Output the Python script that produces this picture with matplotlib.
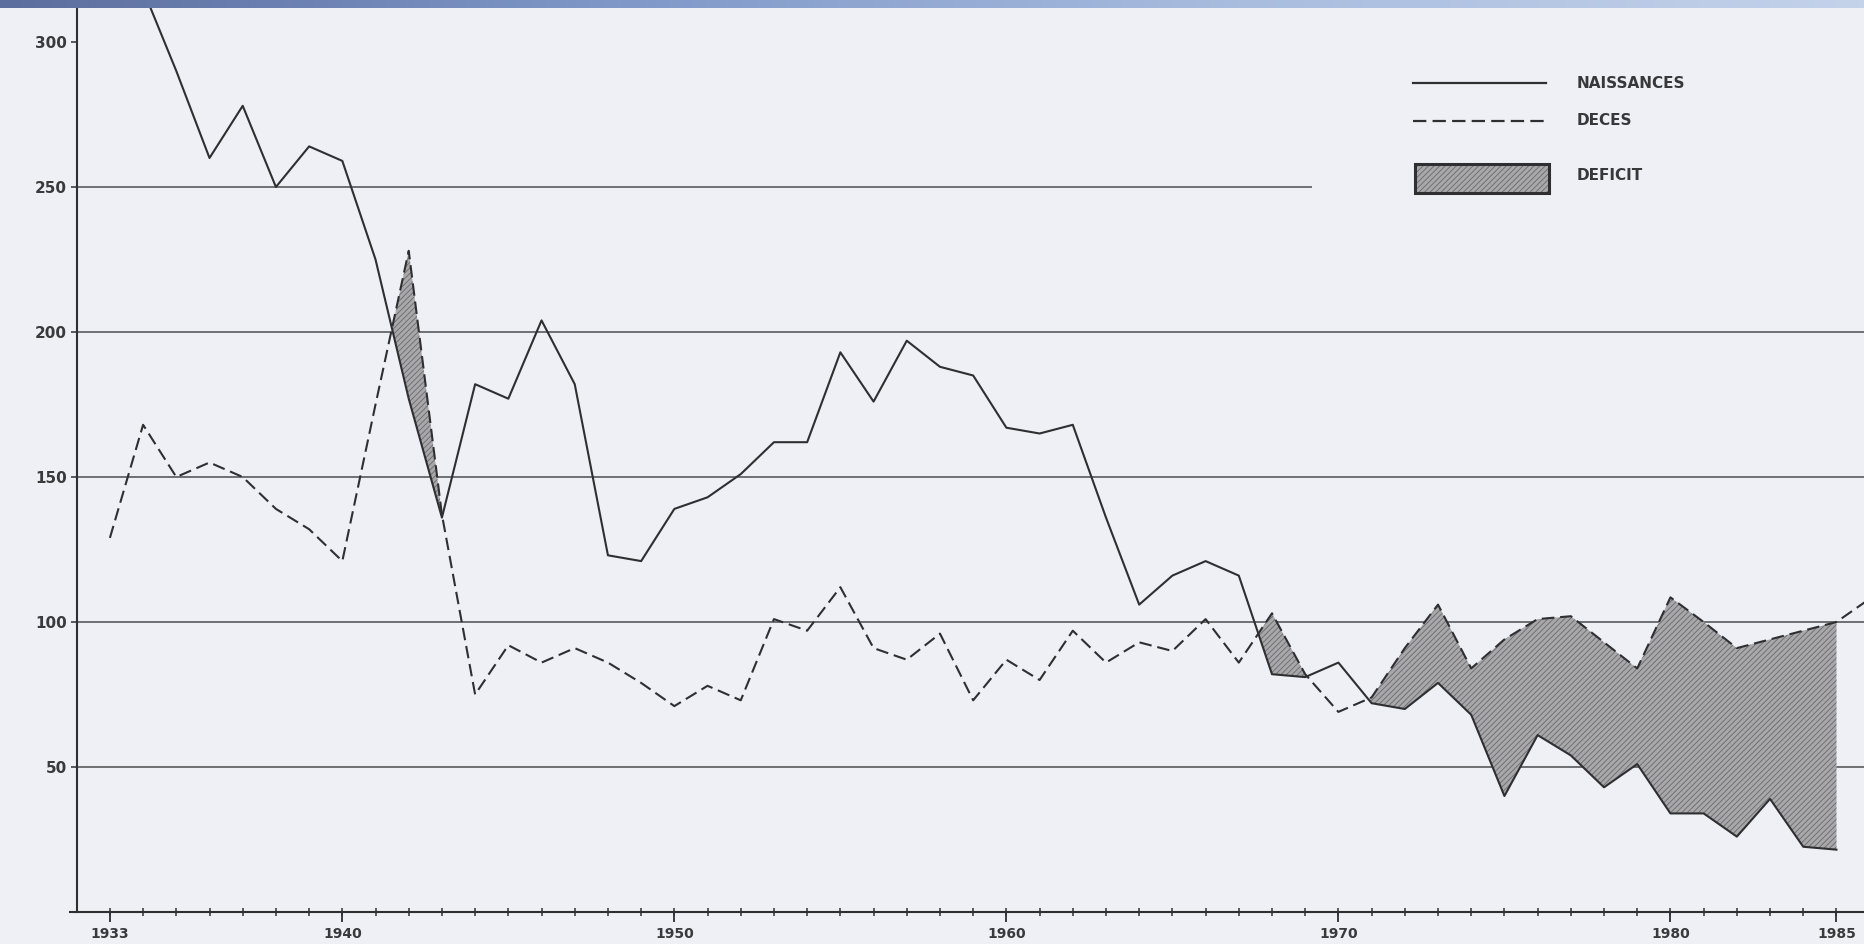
import numpy as np
import matplotlib
matplotlib.use('Agg')
import matplotlib.pyplot as plt
from matplotlib.ticker import FixedLocator
from matplotlib.patches import Rectangle
from matplotlib.colors import LinearSegmentedColormap

# values
years = list(range(1933, 1986))
naissances = [335, 318, 290, 260, 278, 250, 264, 259, 225, 177,
              136, 182, 177, 204, 182, 123, 121, 139, 143, 151,
              162, 162, 193, 176, 197, 188, 185, 167, 165, 168,
              136, 106, 116, 121, 116, 82, 81, 86, 72, 70,
              79, 68, 40, 61, 54, 43, 51, 34, 34, 26,
              39, 22.5, 21.5]
deces_years = list(range(1933, 1987))
deces = [129, 168, 150, 155, 150, 139, 132, 121, 175, 228,
         137, 75, 92, 86, 91, 86, 79, 71, 78, 73,
         101, 97, 112, 91, 87, 96, 73, 87, 80, 97,
         86, 93, 90, 101, 86, 103, 82, 69, 74, 91,
         106, 84, 94, 101, 102, 93, 84, 108.5, 100, 91,
         94, 97, 100, 108]
grid_levels = [50, 100, 150, 200, 250]
y_ticks = [50, 100, 150, 200, 250, 300]
x_labels = [1933, 1940, 1950, 1960, 1970, 1980, 1985]
legend_labels = ['NAISSANCES', 'DECES', 'DEFICIT']

bg = '#eef0f5'
ink = '#2f2f32'
plt.rcParams['hatch.linewidth'] = 0.6

fig = plt.figure(figsize=(18.65, 9.44), dpi=100, facecolor=bg)
ax = fig.add_axes([0, 0, 1, 1], facecolor=bg)
x_left, x_right = 1929.69, 1985.86
y_axis_x = 1932.0
ax.set_xlim(x_left, x_right)
ax.set_ylim(-11.03, 314.48)

# horizontal reference lines
for lv in grid_levels:
    end = 1969.2 if lv == 250 else x_right
    ax.hlines(lv, y_axis_x, end, color='#4c4c50', lw=1.1, zorder=1)

# deficit area
n = np.array(naissances, dtype=float)
d = np.array(deces[:len(years)], dtype=float)
ax.fill_between(years, n, d, where=d > n, interpolate=True,
                facecolor='#a8a8ab', edgecolor='#69696d', hatch='//////',
                lw=0, zorder=2)

ax.plot(years, naissances, color=ink, lw=1.5, zorder=3)
ax.plot(deces_years, deces, color=ink, lw=1.5, ls=(0, (6, 2.8)), zorder=3)

# axes
for s in ['top', 'right']:
    ax.spines[s].set_visible(False)
ax.spines['left'].set_position(('data', y_axis_x))
ax.spines['bottom'].set_position(('data', 0))
ax.spines['left'].set_bounds(0, 330)
ax.spines['bottom'].set_bounds(1931.8, 1987)
for s in ['left', 'bottom']:
    ax.spines[s].set_color(ink)
    ax.spines[s].set_linewidth(1.5)

ax.set_yticks(y_ticks)
ax.set_yticklabels([str(v) for v in y_ticks])
ax.yaxis.set_minor_locator(FixedLocator([300]))
ax.tick_params(axis='y', which='major', direction='out', length=4,
               width=1.1, color=ink, pad=3, labelsize=11, labelcolor='#3a3a3d')
ax.tick_params(axis='y', which='minor', direction='in', length=16,
               width=1.1, color=ink)

ax.set_xticks(x_labels)
ax.set_xticklabels([str(v) for v in x_labels])
ax.xaxis.set_minor_locator(FixedLocator(years))
ax.xaxis.remove_overlapping_locs = False
ax.tick_params(axis='x', which='major', direction='out', length=7,
               width=1.3, color=ink, pad=4, labelsize=10, labelcolor='#3a3a3d')
ax.tick_params(axis='x', which='minor', direction='inout', length=6,
               width=1.1, color=ink)
for lab in ax.get_xticklabels() + ax.get_yticklabels():
    lab.set_fontweight('bold')

# legend drawn in axes fraction
W, H = 1865.0, 944.0
lx0, lx1 = 1413 / W, 1546 / W
ax.plot([lx0, lx1], [1 - 83 / H] * 2, transform=ax.transAxes, color=ink, lw=1.6)
ax.plot([lx0, lx1], [1 - 121 / H] * 2, transform=ax.transAxes, color=ink,
        lw=1.6, ls=(0, (6, 2.8)))
ax.add_patch(Rectangle((1415 / W, 1 - 193 / H), 134 / W, 29 / H,
                       transform=ax.transAxes, facecolor='#a8a8ab',
                       edgecolor='#69696d', hatch='//////', lw=0, zorder=4))
ax.add_patch(Rectangle((1415 / W, 1 - 193 / H), 134 / W, 29 / H,
                       transform=ax.transAxes, facecolor='none',
                       edgecolor=ink, lw=2.2, zorder=5))
for lab, py in zip(legend_labels, [83, 121, 175]):
    ax.text(1577 / W, 1 - py / H, lab, transform=ax.transAxes, ha='left',
            va='center', fontsize=11, fontweight='bold', color='#38383b')

# blue slide banner across the top
band = fig.add_axes([0, 1 - 8 / H, 1, 8 / H])
grad = np.linspace(0, 1, 256).reshape(1, -1)
cmap = LinearSegmentedColormap.from_list('band', ['#5c6e9e', '#7f98c8', '#a9bddf', '#c4d2ea'])
band.imshow(grad, aspect='auto', cmap=cmap)
band.axis('off')

fig.savefig('out.png', dpi=100, facecolor=bg)
